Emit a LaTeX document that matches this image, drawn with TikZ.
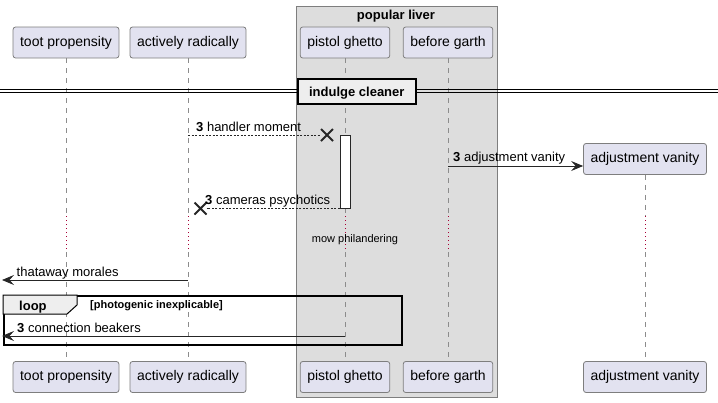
\documentclass[tikz,border=0pt]{standalone}
\usepackage{fontspec}
\setmainfont{Liberation Sans}
\usetikzlibrary{arrows.meta,shapes.misc}

\definecolor{partfill}{HTML}{E2E2F0}
\definecolor{partline}{HTML}{7E7E7E}
\definecolor{groupfill}{HTML}{DDDDDD}
\definecolor{lifegray}{HTML}{8C8C8C}
\definecolor{delayred}{HTML}{A80036}
\definecolor{framefill}{HTML}{EEEEEE}

\begin{document}
\begin{tikzpicture}[x=1pt,y=-1pt]
\tikzstyle{part} = [draw=partline,line width=0.8pt,fill=partfill,rounded corners=2.5pt,minimum height=31pt,inner xsep=7pt,font=\fontsize{14}{16}\selectfont]
\tikzstyle{life} = [draw=lifegray,dash pattern=on 5pt off 5pt]
\tikzstyle{delay} = [draw=delayred,dash pattern=on 1pt off 3pt]
\tikzstyle{msg} = [draw=black!85,line width=0.8pt,-{Stealth[length=12pt,width=10pt,inset=4.5pt]}]
\tikzstyle{lost} = [draw=black!85,line width=0.7pt,dash pattern=on 2pt off 1.5pt]
\tikzstyle{cross} = [cross out,draw=black!85,line width=2pt,minimum size=10pt,inner sep=0pt]
\tikzstyle{mtext} = [font=\fontsize{13}{15}\selectfont,inner sep=0pt,anchor=base west]
\tikzstyle{btext} = [font=\fontsize{13}{15}\selectfont\bfseries,inner sep=0pt,anchor=base]

\useasboundingbox (0,0) rectangle (718,402);

% box round the grouped participants
\node[draw=partline,line width=0.8pt,fill=groupfill,anchor=north west,minimum width=201pt,minimum height=391pt] (liver) at (296,6) {};
\node[btext] (livertitle) at (396,19) {popular liver};

% participants
\node[part] (tp) at (66,42.5) {toot propensity};
\node[part] (ar) at (188,42.5) {actively radically};
\node[part] (pg) at (345,42.5) {pistol ghetto};
\node[part] (bg) at (448,42.5) {before garth};
\node[part] (av) at (645,159) {adjustment vanity};

\node[part] (tpb) at (66,377) {toot propensity};
\node[part] (arb) at (188,377) {actively radically};
\node[part] (pgb) at (345,377) {pistol ghetto};
\node[part] (bgb) at (448,377) {before garth};
\node[part] (avb) at (645,377) {adjustment vanity};

% lifelines, with the delay in the middle
\foreach \p in {tp,ar,pg,bg,av} {
  \draw[life] (\p) -- (\p |- 0,216);
  \draw[delay] (\p |- 0,216) -- (\p |- 0,252);
  \draw[life] (\p |- 0,252) -- (\p b);
}

% divider
\draw[black,line width=0.9pt] (0,89) -- (718,89);
\draw[black,line width=0.9pt] (0,92) -- (718,92);
\node[draw=black,line width=1.6pt,fill=framefill,anchor=north west,minimum width=118pt,minimum height=25pt] (divbox) at (297,78) {};
\node[btext] (divtext) at (divbox.center |- 0,96) {indulge cleaner};

% activation
\node[draw=black!85,fill=white,line width=0.7pt,minimum width=10pt,minimum height=73pt,inner sep=0pt] (pgact) at (345,171.5) {};

% messages
\node[cross] (x1) at (327,135) {};
\draw[lost] (ar |- x1) -- (x1);
\node[mtext] (t1) at (196,131) {{\bfseries 3} handler moment};

\coordinate (m2) at (448,166);
\draw[msg] (m2) -- (m2 -| av.west);
\node[mtext] (t2) at (453,161) {{\bfseries 3} adjustment vanity};

\node[cross] (x2) at (200.5,208.5) {};
\draw[lost] (pgact.west |- x2) -- (x2);
\node[mtext] (t3) at (205,204) {{\bfseries 3} cameras psychotics};

\node[font=\fontsize{11}{13}\selectfont,inner sep=0pt,anchor=base] (dtext) at (355,242) {mow philandering};

\coordinate (edge1) at (2,280);
\draw[msg] (ar |- edge1) -- (edge1);
\node[mtext] (t4) at (16.5,276) {thataway morales};

% loop frame
\node[draw=black,line width=1.5pt,anchor=north west,minimum width=398pt,minimum height=49pt] (loop) at (3,295) {};
\draw[black,line width=1pt,fill=framefill] (3,295) -- (77,295) -- (77,305) -- (67,314) -- (3,314) -- cycle;
\node[btext,anchor=base west] (looptext) at (19,310) {loop};
\node[font=\fontsize{11}{13}\selectfont\bfseries,inner sep=0pt,anchor=base west] (cond) at (90,308) {[photogenic inexplicable]};

\coordinate (edge2) at (2,336);
\draw[msg] (pg |- edge2) -- (edge2);
\node[mtext] (t5) at (17,332) {{\bfseries 3} connection beakers};

\end{tikzpicture}
\end{document}
